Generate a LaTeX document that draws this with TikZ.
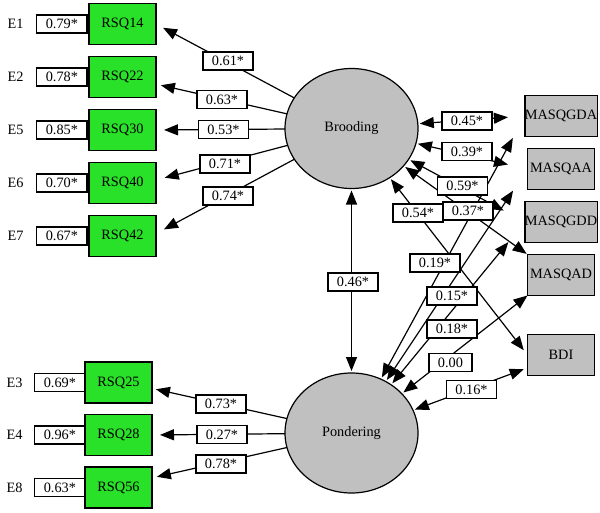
\documentclass[tikz,border=0pt]{standalone}
\usepackage{fontspec}
\setmainfont{Liberation Serif}
\usetikzlibrary{positioning,shapes.geometric,arrows.meta}

\definecolor{itemgreen}{RGB}{40,225,40}
\definecolor{boxgray}{RGB}{192,192,192}

\tikzset{
  item/.style={draw, line width=1.3pt, fill=itemgreen, minimum width=67pt, minimum height=41pt, inner sep=0pt, outer sep=0pt},
  outcome/.style={draw, line width=1.3pt, fill=boxgray, minimum width=67pt, minimum height=41pt, inner sep=0pt, outer sep=0pt},
  latent/.style={ellipse, draw, line width=1.2pt, fill=boxgray, minimum width=133pt, minimum height=120pt, inner sep=0pt, outer sep=0pt},
  valbox/.style={draw, line width=1.2pt, fill=white, inner xsep=9pt, inner ysep=0pt, minimum height=18pt, outer sep=0pt},
  errname/.style={inner sep=0pt},
  load/.style={line width=1.2pt, -{Triangle[length=14pt,width=11pt]}},
  corr/.style={line width=1.2pt, {Triangle[length=14pt,width=11pt]}-{Triangle[length=14pt,width=11pt]}, shorten <=2pt}
}

\begin{document}
\begin{tikzpicture}[x=1pt, y=-1pt, font=\fontsize{14.3pt}{16pt}\selectfont]
      \useasboundingbox (0,0) rectangle (600,512);

      % Nodes
      \node[latent] (brood) at (351.5,128.5) {Brooding};
      \node[latent] (pond) at (351.5,433) {Pondering};

      \node[item] (rsq14) at (122.5,24) {RSQ14};
      \node[item] (rsq22) [below=12pt of rsq14] {RSQ22};
      \node[item] (rsq30) [below=12pt of rsq22] {RSQ30};
      \node[item] (rsq40) [below=12pt of rsq30] {RSQ40};
      \node[item] (rsq42) [below=12pt of rsq40] {RSQ42};

      \node[item] (rsq25) at (118.5,382.5) {RSQ25};
      \node[item] (rsq28) [below=11.5pt of rsq25] {RSQ28};
      \node[item] (rsq56) [below=11.5pt of rsq28] {RSQ56};

      \node[valbox] (u14) [left=2pt of rsq14] {0.79*};
      \node[valbox] (u22) [left=2pt of rsq22] {0.78*};
      \node[valbox] (u30) [left=2pt of rsq30] {0.85*};
      \node[valbox] (u40) [left=2pt of rsq40] {0.70*};
      \node[valbox] (u42) [left=2pt of rsq42] {0.67*};
      \node[valbox] (u25) [left=0pt of rsq25] {0.69*};
      \node[valbox] (u28) [left=0pt of rsq28] {0.96*};
      \node[valbox] (u56) [left=0pt of rsq56] {0.63*};

      \node[errname] (e1) [left=13pt of u14] {E1};
      \node[errname] (e2) [left=13pt of u22] {E2};
      \node[errname] (e5) [left=13pt of u30] {E5};
      \node[errname] (e6) [left=13pt of u40] {E6};
      \node[errname] (e7) [left=13pt of u42] {E7};
      \node[errname] (e3) [left=12pt of u25] {E3};
      \node[errname] (e4) [left=12pt of u28] {E4};
      \node[errname] (e8) [left=12pt of u56] {E8};

      \node[outcome] (gda) at (561,116) {MASQGDA};
      \node[outcome] (aa) [below=12pt of gda] {MASQAA};
      \node[outcome] (gdd) [below=12pt of aa] {MASQGDD};
      \node[outcome] (ad) [below=12pt of gdd] {MASQAD};
      \node[outcome] (bdi) [below=39pt of ad] {BDI};

      % Arrows
      \draw[load, shorten >=8pt] (brood) -- (rsq14.east);
      \draw[load, shorten >=5pt] (brood) -- (rsq22.-12);
      \draw[load, shorten >=8pt] (brood) -- (rsq30.east);
      \draw[load, shorten >=9pt] (brood) -- (rsq40.5);
      \draw[load, shorten >=9pt] (brood) -- (rsq42.4);
      \draw[load, shorten >=4pt] (pond) -- (rsq25.-10);
      \draw[load, shorten >=8pt] (pond) -- (rsq28.east);
      \draw[load, shorten >=5pt] (pond) -- (rsq56.16);

      \draw[corr, shorten >=2pt] (brood) -- (pond);

      \draw[corr, shorten >=17pt] (brood) -- (gda.west);
      \draw[corr, shorten >=20pt] (brood) -- (aa.west);
      \draw[corr, shorten >=24pt] (brood) -- (gdd.west);
      \draw[corr, shorten >=1pt] (brood) -- (ad.north west);
      \draw[corr, shorten >=6pt] (brood) -- (bdi.west);

      \draw[corr, shorten >=25pt] (pond) -- (gda.west);
      \draw[corr, shorten >=26pt] (pond) -- (aa.west);
      \draw[corr, shorten >=26pt] (pond) -- (gdd.west);
      \draw[corr] (pond) -- (ad.south west);
      \draw[corr, shorten >=4pt] (pond) -- (bdi.201);

      % Coefficients
      \node[valbox] (c14) at (228,61) {0.61*};
      \node[valbox] (c22) at (222,99.5) {0.63*};
      \node[valbox] (c30) at (223.5,129.5) {0.53*};
      \node[valbox] (c40) at (225,164) {0.71*};
      \node[valbox] (c42) at (228,196) {0.74*};
      \node[valbox] (c25) at (221,404) {0.73*};
      \node[valbox] (c28) at (222,434.5) {0.27*};
      \node[valbox] (c56) at (221,464) {0.78*};
      \node[valbox] (cbp) at (353,282) {0.46*};

      \node[valbox] (cbgda) at (467,121) {0.45*};
      \node[valbox] (cbaa) at (467,151.5) {0.39*};
      \node[valbox] (cbgdd) at (462.5,186) {0.59*};
      \node[valbox] (cbad) at (468,211) {0.37*};
      \node[valbox] (cbbdi) at (418,213) {0.54*};
      \node[valbox] (cpgda) at (435,263) {0.19*};
      \node[valbox] (cpaa) at (452,296) {0.15*};
      \node[valbox] (cpgdd) at (452,329) {0.18*};
      \node[valbox] (cpad) at (450.5,362.5) {0.00};
      \node[valbox] (cpbdi) at (471.5,389.5) {0.16*};
  \end{tikzpicture}
\end{document}
